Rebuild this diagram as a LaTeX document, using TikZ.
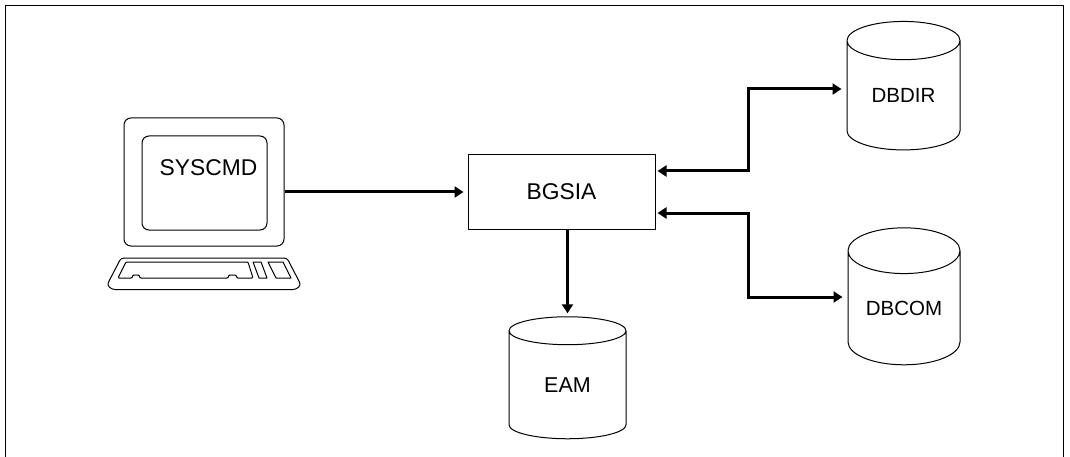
\documentclass[tikz,border=0pt]{standalone}
\usepackage{fontspec}
\setmainfont{Liberation Sans}
\usetikzlibrary{arrows.meta,shapes.geometric}
\tikzset{
  thinline/.style={draw=black, line width=1pt, line join=round},
  box/.style={thinline, minimum width=187pt, minimum height=74pt, inner sep=0pt},
  screen/.style={thinline, rounded corners=7pt, inner sep=0pt},
  db/.style={thinline, cylinder, shape border rotate=90, aspect=0.6, inner sep=0pt, minimum width=113pt, minimum height=128.5pt},
  link/.style={draw=black, line width=3pt, -{Triangle[length=9pt,width=11pt]}},
  duplex/.style={link, {Triangle[length=9pt,width=11pt]}-{Triangle[length=9pt,width=11pt]}, line join=miter},
  lab/.style={font=\fontsize{22.8}{24}\selectfont},
  labdb/.style={font=\fontsize{20.5}{24}\selectfont},
}
\begin{document}
\begin{tikzpicture}[x=1pt,y=-1pt]
  \useasboundingbox (0,0) rectangle (1070,457);
  % frame, open at the bottom
  \draw[thinline] (5.5,457) -- (5.5,5.3) -- (1063,5.3) -- (1063,457);

  % terminal
  \node[screen, minimum width=160pt, minimum height=128pt] (monitor) at (204,182) {};
  \node[screen, minimum width=125pt, minimum height=94pt] (display) at (204.5,183) {};
  \node[lab] (syscmd) at (208.5,168) {SYSCMD};
  \draw[thinline, rounded corners=3pt] (121,258) -- (287,258) -- (301,285) -- (296,289.5) -- (112,289.5) -- (107,285) -- cycle;
  \draw[thinline, rounded corners=1pt] (126,262) -- (248,262) -- (253,278) -- (237,278) -- (236,275) -- (229,275) -- (228,278) -- (140,278) -- (139,275) -- (133,275) -- (132,278) -- (118,278) -- cycle;
  \draw[thinline] (253,262) -- (261,262) -- (267,278) -- (259,278) -- cycle;
  \draw[thinline] (268,262) -- (283,262) -- (291,278) -- (276,278) -- cycle;

  \node[box, lab] (bgsia) at (561.5,192) {BGSIA};

  \node[db, labdb] (dbdir) at (903.5,95.5) {DBDIR};
  \node[db, labdb, minimum width=112pt, minimum height=137pt] (dbcom) at (904,308) {DBCOM};
  \node[db, minimum width=117pt, minimum height=122pt, font=\fontsize{21.5}{24}\selectfont] (eam) at (567.5,385) {EAM};

  \draw[link, shorten >=4pt] (monitor.east |- bgsia.west) -- (bgsia.west);
  \draw[link, shorten >=3pt] (bgsia.south -| eam.north) -- (eam.north);
  \draw[duplex, shorten <=2pt, shorten >=5pt] (bgsia.east |- 0,171) -- (748,171) |- (dbdir.west |- 0,89);
  \draw[duplex, shorten <=2pt, shorten >=5pt] (bgsia.east |- 0,213) -- (748,213) |- (dbcom.west |- 0,297);
\end{tikzpicture}
\end{document}
